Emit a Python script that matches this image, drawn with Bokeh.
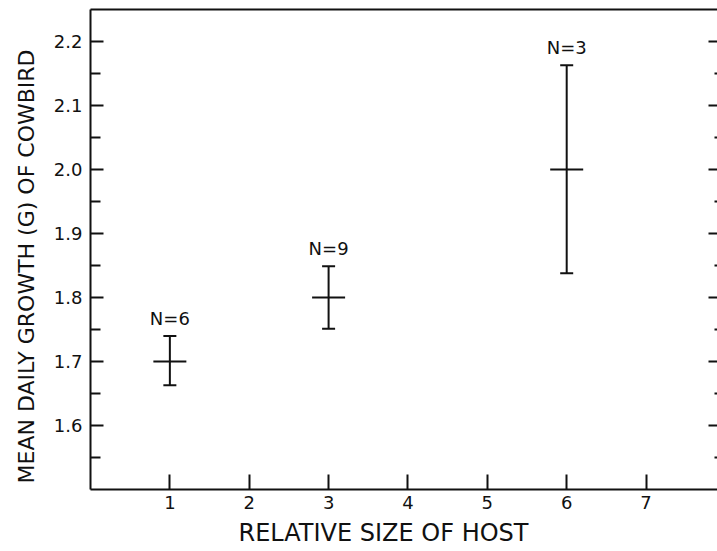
import math
from bokeh.plotting import figure
from bokeh.models import (Range1d, LinearAxis, FixedTicker, Whisker, TeeHead,
                          ColumnDataSource, Title)
from bokeh.core.properties import value
from bokeh.embed import file_html
from bokeh.resources import INLINE

# ---- data ----
host_size = [1, 3, 6]
mean_growth = [1.70, 1.80, 2.00]
err_low = [1.663, 1.751, 1.838]
err_high = [1.740, 1.849, 2.163]
n_labels = ["N=6", "N=9", "N=3"]

x_ticks = [1, 2, 3, 4, 5, 6, 7]
y_ticks = [1.6, 1.7, 1.8, 1.9, 2.0, 2.1, 2.2]
y_minor = [1.55, 1.65, 1.75, 1.85, 1.95, 2.05, 2.15]
y_tick_labels = {1.6: "1.6", 1.7: "1.7", 1.8: "1.8", 1.9: "1.9",
                 2.0: "2.0", 2.1: "2.1", 2.2: "2.2"}
x_title = "RELATIVE SIZE OF HOST"
y_title = "MEAN DAILY GROWTH (G) OF COWBIRD"

FONT = "DejaVu Sans"
INK = "#111111"
X0, X1 = 0.0, 7.90
Y0, Y1 = 1.5, 2.25

src = ColumnDataSource(dict(x=host_size, y=mean_growth, lower=err_low,
                            upper=err_high, label=n_labels))

p = figure(width=717, height=551,
           x_range=Range1d(X0, X1), y_range=Range1d(Y0, Y1),
           x_axis_type=None, y_axis_type=None,
           output_backend="svg", toolbar_location=None,
           min_border_left=88, min_border_right=0,
           min_border_top=9, min_border_bottom=62)
p.outline_line_color = None
p.background_fill_color = "white"
p.border_fill_color = "white"

def style(ax):
    ax.axis_line_color = INK
    ax.axis_line_width = 2
    ax.major_tick_line_color = INK
    ax.major_tick_line_width = 2
    ax.minor_tick_line_color = INK
    ax.minor_tick_line_width = 2
    ax.major_tick_out = 0
    ax.minor_tick_out = 0
    ax.major_label_text_font = FONT
    ax.major_label_text_font_size = "18px"
    ax.major_label_text_color = INK

# left axis
yl = LinearAxis(ticker=FixedTicker(ticks=y_ticks, minor_ticks=y_minor))
style(yl)
yl.major_tick_in = 13
yl.minor_tick_in = 10
yl.major_label_overrides = y_tick_labels
yl.major_label_standoff = 8
p.add_layout(yl, "left")

# bottom axis
xb = LinearAxis(ticker=FixedTicker(ticks=x_ticks, minor_ticks=[]))
style(xb)
xb.major_tick_in = 15
xb.minor_tick_in = 0
xb.major_label_standoff = 6
p.add_layout(xb, "below")

# top spine
xt = LinearAxis(ticker=FixedTicker(ticks=[], minor_ticks=[]))
style(xt)
xt.major_tick_in = 0
xt.major_label_standoff = 0
p.add_layout(xt, "above")

# right-hand inward ticks (spine lies outside the view)
p.ray(x=[X1] * len(y_ticks), y=y_ticks, length=9, length_units="screen",
      angle=math.pi, line_color=INK, line_width=2)
p.ray(x=[X1] * len(y_minor), y=y_minor, length=3, length_units="screen",
      angle=math.pi, line_color=INK, line_width=2)

# axis titles
p.add_layout(Title(text=x_title, align="left", offset=148, standoff=10,
                   text_font=FONT, text_font_size="24px",
                   text_font_style="normal", text_color=INK), "below")
p.add_layout(Title(text=y_title, align="left", offset=6, standoff=23,
                   text_font=FONT, text_font_size="22px",
                   text_font_style="normal", text_color=INK), "left")

# error bars
wh = Whisker(base="x", lower="lower", upper="upper", source=src,
             line_color=INK, line_width=2,
             lower_head=TeeHead(size=13, line_color=INK, line_width=2),
             upper_head=TeeHead(size=13, line_color=INK, line_width=2))
p.add_layout(wh)

# mean marks
p.scatter("x", "y", source=src, marker="dash", size=33,
          line_color=INK, line_width=2)

# N labels
p.text("x", "upper", text="label", source=src, y_offset=-7,
       text_align="center", text_baseline="bottom",
       text_font=value(FONT), text_font_size="18px", text_color=INK)

open("out.html", "w").write(file_html(p, INLINE))
